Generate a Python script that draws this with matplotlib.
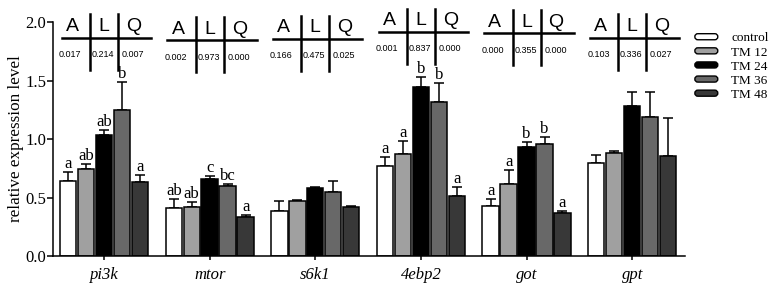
import matplotlib
matplotlib.use("Agg")
import matplotlib.pyplot as plt
import numpy as np
from matplotlib.patches import Patch, FancyBboxPatch
from matplotlib.legend_handler import HandlerPatch

genes = ["pi3k", "mtor", "s6k1", "4ebp2", "got", "gpt"]
groups = ["control", "TM 12", "TM 24", "TM 36", "TM 48"]
colors = ["#ffffff", "#a0a0a0", "#000000", "#686868", "#383838"]

means = {
    "control": [0.64, 0.41, 0.385, 0.766, 0.427, 0.792],
    "TM 12":   [0.74, 0.42, 0.467, 0.874, 0.615, 0.877],
    "TM 24":   [1.034, 0.655, 0.578, 1.447, 0.934, 1.282],
    "TM 36":   [1.25, 0.60, 0.544, 1.319, 0.955, 1.19],
    "TM 48":   [0.635, 0.336, 0.416, 0.515, 0.365, 0.857],
}
errs = {
    "control": [0.075, 0.08, 0.085, 0.077, 0.058, 0.068],
    "TM 12":   [0.05, 0.04, 0.009, 0.11, 0.12, 0.02],
    "TM 24":   [0.046, 0.025, 0.009, 0.08, 0.043, 0.118],
    "TM 36":   [0.24, 0.02, 0.096, 0.157, 0.065, 0.21],
    "TM 48":   [0.055, 0.014, 0.009, 0.072, 0.022, 0.32],
}
letters = {
    "control": ["a", "ab", "", "a", "a", ""],
    "TM 12":   ["ab", "ab", "", "a", "a", ""],
    "TM 24":   ["ab", "c", "", "b", "b", ""],
    "TM 36":   ["b", "bc", "", "b", "b", ""],
    "TM 48":   ["a", "a", "", "a", "a", ""],
}
p_A = ["0.017", "0.002", "0.166", "0.001", "0.000", "0.103"]
p_L = ["0.214", "0.973", "0.475", "0.837", "0.355", "0.336"]
p_Q = ["0.007", "0.000", "0.025", "0.000", "0.000", "0.027"]

# small vertical offset (data units) of each A/L/Q table, as drawn
table_dy = [0.0, -0.02, -0.01, 0.05, 0.04, 0.0]

serif = ["Liberation Serif", "DejaVu Serif"]
sans = ["Liberation Sans", "DejaVu Sans"]

fig = plt.figure(figsize=(7.75, 2.9), dpi=100)
ax = fig.add_axes([0.0684, 0.117, 0.8155, 0.807])

x = np.arange(len(genes))
step = 0.17
width = 0.155
for i, g in enumerate(groups):
    xs = x + (i - 2) * step
    ax.bar(xs, means[g], width, color=colors[i], edgecolor="black",
           linewidth=1.1, zorder=2)
    ax.errorbar(xs, means[g], yerr=[np.zeros(len(genes)), errs[g]], fmt="none",
                ecolor="black", elinewidth=1.1, capsize=3.5, capthick=1.1, zorder=1)
    for j in range(len(genes)):
        if letters[g][j]:
            ax.text(xs[j], means[g][j] + errs[g][j] + 0.0, letters[g][j],
                    ha="center", va="bottom", fontsize=12, family=serif)

# A/L/Q tables
for j in range(len(genes)):
    c = x[j]
    dy = table_dy[j]
    yl = 1.863 + dy
    ax.plot([c - 0.40, c + 0.445], [yl, yl], color="black", lw=1.8, clip_on=False)
    for vx in (c - 0.133, c + 0.133):
        ax.plot([vx, vx], [2.065 + dy, 1.59 + dy], color="black", lw=1.8, clip_on=False)
    for off, t in zip((-0.30, 0.0, 0.28), ("A", "L", "Q")):
        ax.text(c + off, 1.96 + dy, t, ha="center", va="center", fontsize=14,
                family=sans, clip_on=False)
    for off, t in zip((-0.32, -0.01, 0.275), (p_A[j], p_L[j], p_Q[j])):
        ax.text(c + off, 1.72 + dy, t, ha="center", va="center", fontsize=6.5,
                family=sans, clip_on=False)

ax.set_xlim(-0.483, 5.5)
ax.set_ylim(0, 2.0)
ax.set_yticks([0, 0.5, 1.0, 1.5, 2.0])
ax.set_yticklabels(["0.0", "0.5", "1.0", "1.5", "2.0"], family=serif, fontsize=12)
ax.set_xticks(x)
ax.set_xticklabels(genes, family=serif, style="italic", fontsize=12)
ax.tick_params(axis="x", length=3, width=1.1, pad=5)
ax.tick_params(axis="y", length=4, width=1.1, pad=1)
ax.set_ylabel("relative expression level", family=serif, fontsize=12.3)
ax.yaxis.set_label_coords(-0.046, 0.5)
for s in ("top", "right"):
    ax.spines[s].set_visible(False)
for s in ("left", "bottom"):
    ax.spines[s].set_linewidth(1.1)


class RoundHandler(HandlerPatch):
    def create_artists(self, legend, orig_handle, xdescent, ydescent, width,
                       height, fontsize, trans):
        p = FancyBboxPatch((-xdescent + 1, -ydescent), width - 2, height,
                           boxstyle="round,pad=0,rounding_size=%.2f" % (height / 2),
                           facecolor=orig_handle.get_facecolor(),
                           edgecolor="black", linewidth=1.0, transform=trans)
        return [p]


handles = [Patch(facecolor=colors[i], edgecolor="black") for i in range(5)]
leg = ax.legend(handles, groups, loc="upper left", bbox_to_anchor=(1.005, 0.978),
                frameon=False, prop={"family": serif, "size": 9.5},
                handlelength=1.95, handleheight=0.33, labelspacing=0.16,
                handletextpad=0.9, borderaxespad=0,
                handler_map={Patch: RoundHandler()})

fig.savefig("out.png", dpi=100)
